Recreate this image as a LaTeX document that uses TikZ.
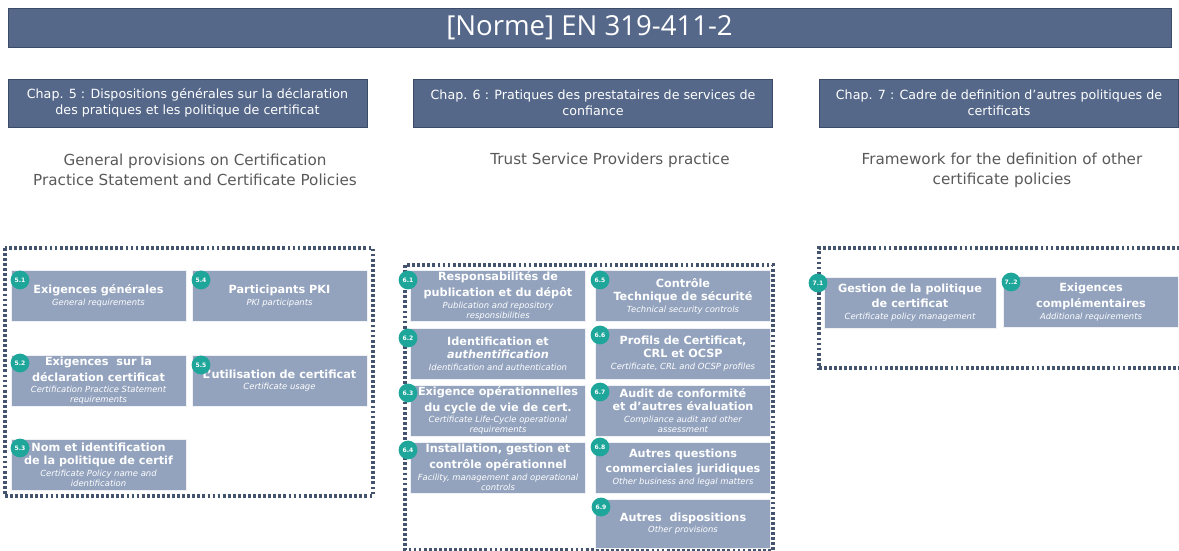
\documentclass[tikz,border=0pt]{standalone}
\usepackage{fontspec}
\setmainfont{DejaVu Sans}
\newfontfamily\headfont{Open Sans}
\usepackage{tikz}
\pgfdeclarelayer{background}
\pgfdeclarelayer{foreground}
\pgfsetlayers{background,main,foreground}

\definecolor{slate}{RGB}{85,104,138}
\definecolor{slateline}{RGB}{60,76,104}
\definecolor{secfill}{RGB}{147,163,190}
\definecolor{dotline}{RGB}{68,84,110}
\definecolor{tealdot}{RGB}{30,166,155}
\definecolor{subgray}{RGB}{89,89,89}

\newcommand{\ttl}{\fontsize{8}{7.2}\selectfont\bfseries}
\newcommand{\sbt}{\fontsize{6}{7.2}\selectfont\itshape}
\newcommand{\tbrk}{\\[2.3pt]}
\newcommand{\sbrk}{\\[1pt]}

\begin{document}
\begin{tikzpicture}[x=0.025cm,y=-0.025cm,
  titlebar/.style={draw=slateline,fill=slate,text=white,minimum width=29.075cm,minimum height=0.975cm,font=\headfont\fontsize{19.6}{22}\selectfont},
  chapbox/.style={draw=slateline,line width=0.6pt,fill=slate,text=white,minimum width=8.975cm,minimum height=1.2cm,align=center,font=\fontsize{9}{11.4}\selectfont},
  chapsub/.style={text=subgray,align=center,font=\fontsize{10.8}{14.2}\selectfont},
  secbox/.style={draw=white!85!secfill,fill=secfill,text=white,minimum width=4.375cm,minimum height=1.275cm,align=center,inner sep=0pt,font=\fontsize{6}{7.2}\selectfont},
  numdot/.style={circle,fill=tealdot,text=white,minimum size=0.47cm,inner sep=0pt,font=\fontsize{4.3}{5}\selectfont\bfseries},
  dotframe/.style={draw=dotline,line width=2.2pt,dash pattern=on 2pt off 1.6pt}]
\useasboundingbox (0,0) rectangle (1179,551);

\node[titlebar] (norme) at (589.5,27.5) {[Norme] EN 319-411-2};

\node[chapbox] (chap5) at (187.5,103) {Chap. 5 : Dispositions générales sur la déclaration\\des pratiques et les politique de certificat};
\node[chapbox] (chap6) at (593,103) {Chap. 6 : Pratiques des prestataires de services de\\confiance};
\node[chapbox] (chap7) at (999,103) {Chap. 7 : Cadre de definition d’autres politiques de\\certificats};

\node[chapsub] (sub5) at (195,170) {General provisions on Certification\\Practice Statement and Certificate Policies};
\node[chapsub] (sub6) at (610,160) {Trust Service Providers practice};
\node[chapsub] (sub7) at (1002,170) {Framework for the definition of other\\certificate policies};

\begin{pgfonlayer}{background}
\draw[dotframe] (5,248) rectangle (373,496);
\draw[dotframe] (405,265) rectangle (773,550);
\draw[dotframe] (1180,248) -- (819,248) -- (819,368) -- (1180,368);
\end{pgfonlayer}

\node[secbox] (s51) at (98.5,296) {\ttl Exigences générales\sbrk\sbt General requirements};
\node[secbox] (s54) at (279.5,296) {\ttl Participants PKI\sbrk\sbt PKI participants};
\node[secbox] (s52) at (98.5,380.5) {\ttl Exigences\ \ sur la\tbrk\ttl déclaration certificat\sbrk\sbt Certification Practice Statement\\\sbt requirements};
\node[secbox] (s55) at (279.5,380.5) {\ttl L’utilisation de certificat\sbrk\sbt Certificate usage};
\node[secbox] (s53) at (98.5,464.5) {\ttl Nom et identification\tbrk\ttl de la politique de certif\sbrk\sbt Certificate Policy name and\\\sbt identification};

\node[secbox] (s61) at (498,296) {\ttl Responsabilités de\tbrk\ttl publication et du dépôt\sbrk\sbt Publication and repository\\\sbt responsibilities};
\node[secbox] (s62) at (498,353.5) {\ttl Identification et\tbrk\ttl\itshape authentification\sbrk\sbt Identification and authentication};
\node[secbox] (s63) at (498,410.5) {\ttl Exigence opérationnelles\tbrk\ttl du cycle de vie de cert.\sbrk\sbt Certificate Life-Cycle operational\\\sbt requirements};
\node[secbox] (s64) at (498,467.5) {\ttl Installation, gestion et\tbrk\ttl contrôle opérationnel\sbrk\sbt Facility, management and operational\\\sbt controls};
\node[secbox] (s65) at (683,296) {\ttl Contrôle\tbrk\ttl Technique de sécurité\sbrk\sbt Technical security controls};
\node[secbox] (s66) at (683,353.5) {\ttl Profils de Certificat,\tbrk\ttl CRL et OCSP\sbrk\sbt Certificate, CRL and OCSP profiles};
\node[secbox] (s67) at (683,410.5) {\ttl Audit de conformité\tbrk\ttl et d’autres évaluation\sbrk\sbt Compliance audit and other\\\sbt assessment};
\node[secbox] (s68) at (683,467.5) {\ttl Autres questions\tbrk\ttl commerciales juridiques\sbrk\sbt Other business and legal matters};
\node[secbox,minimum height=1.225cm] (s69) at (683,523.5) {\ttl Autres\ \ dispositions\sbrk\sbt Other provisions};

\node[secbox,minimum width=4.3cm] (s71) at (910,302.5) {\ttl Gestion de la politique\tbrk\ttl de certificat\sbrk\sbt Certificate policy management};
\node[secbox] (s72) at (1091,302) {\ttl Exigences\tbrk\ttl complémentaires\sbrk\sbt Additional requirements};

\begin{pgfonlayer}{foreground}
\node[numdot] (n51) at (20,280) {5.1};
\node[numdot] (n54) at (201,280) {5.4};
\node[numdot] (n52) at (20,363) {5.2};
\node[numdot] (n55) at (201,365) {5.5};
\node[numdot] (n53) at (20,448) {5.3};
\node[numdot] (n61) at (408,280) {6.1};
\node[numdot] (n62) at (408,338) {6.2};
\node[numdot] (n63) at (408,393) {6.3};
\node[numdot] (n64) at (408,450) {6.4};
\node[numdot] (n65) at (600,280) {6.5};
\node[numdot] (n66) at (600,335) {6.6};
\node[numdot] (n67) at (600,392) {6.7};
\node[numdot] (n68) at (600,447) {6.8};
\node[numdot] (n69) at (601,507) {6.9};
\node[numdot] (n71) at (818,283) {7.1};
\node[numdot] (n72) at (1011,282) {7..2};
\end{pgfonlayer}
\end{tikzpicture}
\end{document}
